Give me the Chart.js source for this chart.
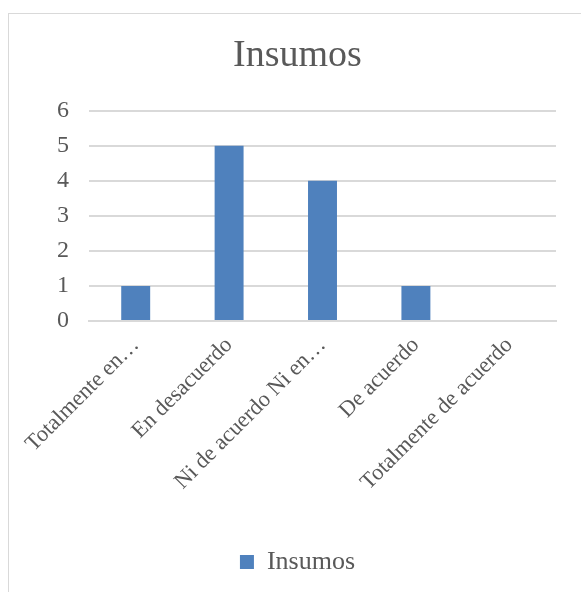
<!DOCTYPE html>
<html>
<head>
<meta charset="utf-8">
<script src="https://cdn.jsdelivr.net/npm/chart.js@4/dist/chart.umd.min.js"></script>
<style>
  html, body { margin: 0; padding: 0; background: #fff; overflow: hidden; }
  #box {
    position: absolute; left: 8px; top: 13px;
    width: 578px; height: 579px;
    border-left: 1px solid #d9d9d9; border-top: 1px solid #d9d9d9;
  }
</style>
</head>
<body>
<div id="box"><canvas id="insumosChart"></canvas></div>
<script>
// data
const categories = ['Totalmente en…', 'En desacuerdo', 'Ni de acuerdo Ni en…', 'De acuerdo', 'Totalmente de acuerdo'];
const insumosValues = [1, 5, 4, 1, 0];
const yTicks = [0, 1, 2, 3, 4, 5, 6];

const FONT = "'Liberation Serif', 'DejaVu Serif', serif";
const TEXT = '#595959';
const GRID = '#d9d9d9';

const canvas = document.getElementById('insumosChart');
canvas.width = 577; canvas.height = 578;

new Chart(canvas, {
    type: 'bar',
    data: {
        labels: categories,
        datasets: [{
            label: 'Insumos',
            data: insumosValues,
            backgroundColor: '#4f81bd',
            barPercentage: 0.62,
            categoryPercentage: 0.5
        }]
    },
    options: {
        responsive: false,
        animation: false,
        layout: { padding: { left: 0, right: 0, top: 0, bottom: 7 } },
        plugins: {
            title: {
                display: true,
                text: 'Insumos',
                color: TEXT,
                font: { family: FONT, size: 38, weight: 'normal' },
                padding: { top: 19, bottom: 32 }
            },
            legend: {
                position: 'bottom',
                labels: {
                    color: TEXT,
                    font: { family: FONT, size: 26 },
                    boxWidth: 14, boxHeight: 14,
                    padding: 10
                }
            },
            tooltip: { enabled: false }
        },
        scales: {
            x: {
                grid: { display: false },
                border: { color: GRID, width: 2 },
                ticks: {
                    color: TEXT,
                    font: { family: FONT, size: 22.5 },
                    minRotation: 45, maxRotation: 45,
                    autoSkip: false
                },
                afterFit(scale) { scale.height = 218; }
            },
            y: {
                min: 0, max: 6,
                afterBuildTicks(scale) { scale.ticks = yTicks.map(v => ({ value: v })); },
                grid: { color: GRID, lineWidth: 2, drawTicks: false },
                border: { display: false },
                ticks: {
                    color: TEXT,
                    font: { family: FONT, size: 24 },
                    padding: 20
                },
                afterFit(scale) { scale.width = 80; }
            },
            // empty right margin so the title and legend centre on the whole box
            yRight: {
                position: 'right',
                grid: { display: false },
                border: { display: false },
                ticks: { display: false },
                afterFit(scale) { scale.width = 30; }
            }
        }
    }
});
</script>
</body>
</html>
